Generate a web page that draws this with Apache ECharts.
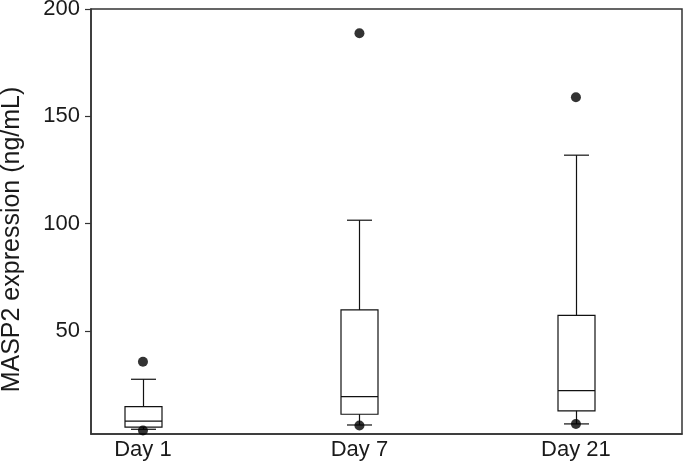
<!DOCTYPE html>
<html>
<head>
<meta charset="utf-8">
<script src="https://cdn.jsdelivr.net/npm/echarts@6/dist/echarts.min.js"></script>
<style>
  html, body { margin: 0; padding: 0; background: #fff; }
  #chart-container { width: 685px; height: 466px; }
</style>
</head>
<body>
<div id="chart-container"></div>
<script>
var categories = ['Day 1', 'Day 7', 'Day 21'];
var positions = [1, 2, 3];
var lowWhisker = [4.2, 6.2, 6.7];
var q1 = [5.2, 11.2, 12.8];
var median = [8, 19.4, 22.2];
var q3 = [14.8, 59.8, 57.3];
var highWhisker = [27.5, 101.6, 131.9];
var outliers = [[1, 35.7], [1, 3.6], [2, 188.7], [2, 6], [3, 158.9], [3, 6.7]];
var yTicks = [50, 100, 150, 200];

var dom = document.getElementById('chart-container');
var myChart = echarts.init(dom, null, { renderer: 'canvas' });

var boxData = positions.map(function (p, i) {
  return [p, lowWhisker[i], q1[i], median[i], q3[i], highWhisker[i]];
});

var lineColor = '#333';
var textColor = '#1a1a1a';
var font = 'Liberation Sans, Arial, sans-serif';

function renderBox(params, api) {
  var x = api.value(0);
  var lo = api.coord([x, api.value(1)]);
  var b = api.coord([x, api.value(2)]);
  var m = api.coord([x, api.value(3)]);
  var t = api.coord([x, api.value(4)]);
  var hi = api.coord([x, api.value(5)]);
  var cx = Math.round(lo[0]) + 0.5;
  var hb = 18.5, hc = 12.5;
  var st = { stroke: '#111', lineWidth: 1.2, fill: null };
  function ln(x1, y1, x2, y2) {
    return { type: 'line', shape: { x1: x1, y1: y1, x2: x2, y2: y2 }, style: st };
  }
  return {
    type: 'group',
    children: [
      { type: 'rect', shape: { x: cx - hb, y: t[1], width: hb * 2, height: b[1] - t[1] }, style: { stroke: '#111', lineWidth: 1.2, fill: '#fff' } },
      ln(cx - hb, m[1], cx + hb, m[1]),
      ln(cx, t[1], cx, hi[1]),
      ln(cx - hc, hi[1], cx + hc, hi[1]),
      ln(cx, b[1], cx, lo[1]),
      ln(cx - hc, lo[1], cx + hc, lo[1])
    ]
  };
}

var option = {
  animation: false,
  grid: {
    left: 91, right: 3, top: 9, bottom: 32,
    outerBoundsMode: 'none',
    containLabel: false,
    show: true, borderColor: lineColor, borderWidth: 1.5, backgroundColor: '#fff'
  },
  xAxis: {
    type: 'value',
    min: 0.76,
    max: 3.49,
    splitLine: { show: false },
    axisLine: { show: true, lineStyle: { color: lineColor, width: 1.5 } },
    axisTick: { show: false },
    axisLabel: {
      customValues: positions,
      formatter: function (v) { return categories[positions.indexOf(v)] || ''; },
      color: textColor, fontSize: 22, fontFamily: font, margin: 5
    }
  },
  yAxis: {
    type: 'value',
    min: 2,
    max: 200,
    name: 'MASP2 expression (ng/mL)',
    nameLocation: 'middle',
    nameGap: 66,
    nameTextStyle: { color: textColor, fontSize: 25, fontFamily: font, padding: [0, 36, 0, 0] },
    splitLine: { show: false },
    axisLine: { show: true, lineStyle: { color: lineColor, width: 1.5 } },
    axisTick: { show: true, customValues: yTicks, length: 6, lineStyle: { color: lineColor, width: 1.2 } },
    axisLabel: {
      customValues: yTicks,
      color: textColor, fontSize: 22, fontFamily: font, margin: 11
    }
  },
  series: [
    {
      type: 'custom',
      renderItem: renderBox,
      encode: { x: 0, y: [1, 2, 3, 4, 5] },
      data: boxData
    },
    {
      type: 'scatter',
      symbol: 'circle',
      symbolSize: 10,
      itemStyle: { color: '#000' },
      z: 5,
      data: outliers
    }
  ]
};

myChart.setOption(option);
window.addEventListener('resize', myChart.resize);
</script>
</body>
</html>
